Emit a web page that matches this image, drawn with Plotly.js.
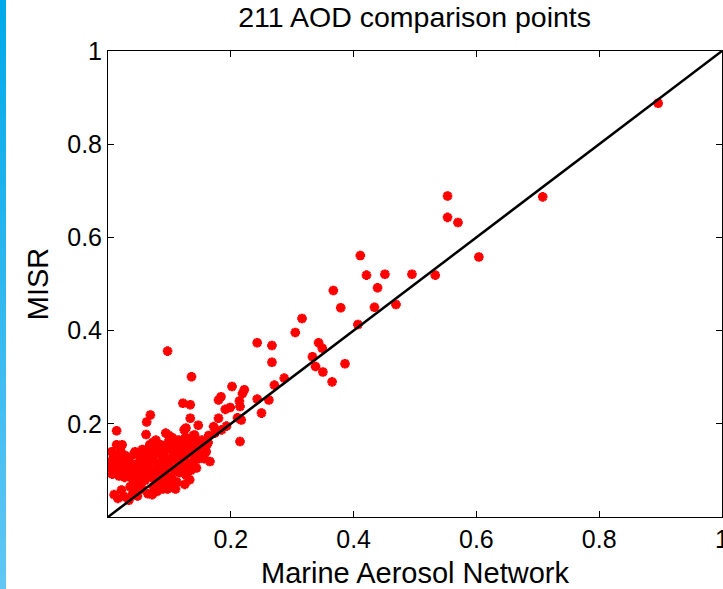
<!DOCTYPE html>
<html>
<head>
<meta charset="utf-8">
<script src="https://cdn.plot.ly/plotly-3.0.1.min.js"></script>
<style>
html, body { margin:0; padding:0; width:723px; height:589px; overflow:hidden;
  background: linear-gradient(to bottom, #00a9ea, #62c7f4) 0 0 / 6px 100% no-repeat, #ffffff; }
#chart { width:723px; height:589px; }
</style>
</head>
<body>
<div id="chart"></div>
<script>
// Marine Aerosol Network AOD (x) vs MISR AOD (y), 211 points
const manAOD = [
 // dense cluster
 0.005,0.008,0.010,0.012,0.015,0.018,0.020,0.022,0.025,0.028,0.014,0.023,0.014,0.010,0.016,0.026,0.034,0.022,0.030,0.006,
 0.032,0.035,0.038,0.040,0.042,0.045,0.045,0.048,0.050,0.052,0.054,0.056,0.058,0.036,0.040,0.048,0.055,0.060,0.060,0.044,
 0.062,0.063,0.062,0.069,0.064,0.066,0.068,0.070,0.072,0.074,0.075,0.076,0.078,0.080,0.082,0.083,0.085,0.086,0.088,0.089,0.065,0.072,0.080,0.087,0.078,
 0.092,0.094,0.093,0.095,0.097,0.098,0.100,0.101,0.103,0.105,0.106,0.108,0.110,0.112,0.113,0.115,0.116,0.118,0.097,0.104,0.110,0.099,0.107,
 0.121,0.122,0.124,0.125,0.127,0.128,0.130,0.132,0.134,0.135,0.137,0.139,0.140,0.142,0.144,0.146,0.148,0.150,0.125,0.133,
 0.152,0.155,0.158,0.160,0.163,0.166,0.157,0.164,
 0.003,0.007,0.011,0.017,0.021,0.027,0.031,0.037,0.041,0.047,0.051,0.053,0.057,0.061,0.067,0.071,0.073,0.077,0.081,0.084,
 0.091,0.096,0.102,0.109,0.114,0.119,0.123,0.129,0.138,0.143,0.090,0.070,
 // middle range
 0.305,0.243,0.267,0.097,0.267,0.136,0.287,0.271,0.202,0.222,0.219,0.184,0.180,0.243,0.262,0.122,0.134,0.214,0.215,0.199,
 0.191,0.250,0.211,0.217,0.134,0.180,0.147,0.172,0.193,0.127,0.141,0.174,0.185,0.215,0.161,0.153,0.144,0.125,
 // upper range
 0.553,0.553,0.570,0.604,0.411,0.421,0.451,0.495,0.533,0.439,0.367,0.379,0.434,0.469,0.407,0.316,0.343,0.349,0.333,0.338,
 0.350,0.386,0.365,
 0.708,0.896
];
const misrAOD = [
 0.105,0.125,0.095,0.115,0.135,0.088,0.108,0.122,0.098,0.132,0.155,0.155,0.185,0.048,0.040,0.044,0.036,0.058,0.112,0.140,
 0.092,0.120,0.105,0.080,0.135,0.058,0.098,0.115,0.070,0.128,0.088,0.145,0.105,0.065,0.050,0.045,0.060,0.120,0.078,0.140,
 0.095,0.204,0.177,0.219,0.135,0.110,0.155,0.085,0.125,0.065,0.145,0.100,0.165,0.115,0.075,0.135,0.090,0.155,0.120,0.060,0.050,0.048,0.055,0.105,0.140,
 0.140,0.180,0.095,0.125,0.070,0.160,0.110,0.145,0.085,0.170,0.130,0.100,0.150,0.075,0.120,0.165,0.095,0.140,0.060,0.065,0.060,0.175,0.155,
 0.110,0.155,0.187,0.130,0.090,0.170,0.145,0.115,0.160,0.100,0.135,0.175,0.120,0.150,0.105,0.140,0.125,0.160,0.070,0.080,
 0.135,0.145,0.150,0.140,0.160,0.119,0.125,0.175,
 0.115,0.092,0.130,0.102,0.140,0.085,0.128,0.095,0.112,0.082,0.100,0.140,0.118,0.088,0.128,0.098,0.160,0.082,0.150,0.112,
 0.108,0.150,0.125,0.140,0.105,0.125,0.145,0.100,0.110,0.165,0.080,0.140,
 0.396,0.374,0.368,0.356,0.332,0.301,0.298,0.283,0.280,0.273,0.265,0.258,0.251,0.253,0.251,0.244,0.241,0.249,0.237,0.235,
 0.231,0.223,0.213,0.208,0.212,0.212,0.197,0.194,0.195,0.191,0.176,0.180,0.187,0.162,0.155,0.165,0.162,0.169,
 0.689,0.643,0.632,0.558,0.561,0.519,0.521,0.521,0.519,0.492,0.486,0.449,0.450,0.456,0.413,0.426,0.374,0.362,0.344,0.323,
 0.311,0.329,0.290,
 0.687,0.888
];
const oneToOne = [0, 1];
const tickVals = [0.2, 0.4, 0.6, 0.8, 1];
const tickText = ['0.2', '0.4', '0.6', '0.8', '1'];

const FONT = '"Liberation Sans", Arial, Helvetica, sans-serif';

const traces = [
  {
    x: manAOD, y: misrAOD, type: 'scatter', mode: 'markers',
    marker: { symbol: 'asterisk-open', size: 8, color: '#ff0000',
              line: { color: '#ff0000', width: 3 } },
    hoverinfo: 'x+y', showlegend: false
  },
  {
    x: oneToOne, y: oneToOne, type: 'scatter', mode: 'lines',
    line: { color: '#000000', width: 2.5 }, showlegend: false, hoverinfo: 'skip'
  }
];

const axisCommon = {
  range: [0, 1], showgrid: false, zeroline: false,
  showline: true, linecolor: '#000', linewidth: 1, mirror: 'ticks',
  ticks: 'inside', ticklen: 6, tickwidth: 1, tickcolor: '#000',
  tickmode: 'array', tickvals: tickVals, ticktext: tickText,
  tickfont: { family: FONT, size: 25, color: '#000' },
  ticklabeloverflow: 'allow',
  fixedrange: true
};

const layout = {
  width: 723, height: 589,
  margin: { l: 108, r: 1, t: 51, b: 72, pad: 0 },
  paper_bgcolor: 'rgba(0,0,0,0)', plot_bgcolor: '#ffffff',
  font: { family: FONT, color: '#000' },
  title: { text: '211 AOD comparison points', font: { family: FONT, size: 28.5, color: '#000' },
           x: 0.5735, xanchor: 'center', y: 0.988, yanchor: 'top' },
  xaxis: Object.assign({}, axisCommon, {
    title: { text: 'Marine Aerosol Network', font: { family: FONT, size: 29, color: '#000' }, standoff: 10 }
  }),
  yaxis: Object.assign({}, axisCommon, {
    title: { text: 'MISR', font: { family: FONT, size: 29, color: '#000' }, standoff: 10 }
  }),
  showlegend: false
};

Plotly.newPlot('chart', traces, layout, { displayModeBar: false, staticPlot: true });
</script>
</body>
</html>
